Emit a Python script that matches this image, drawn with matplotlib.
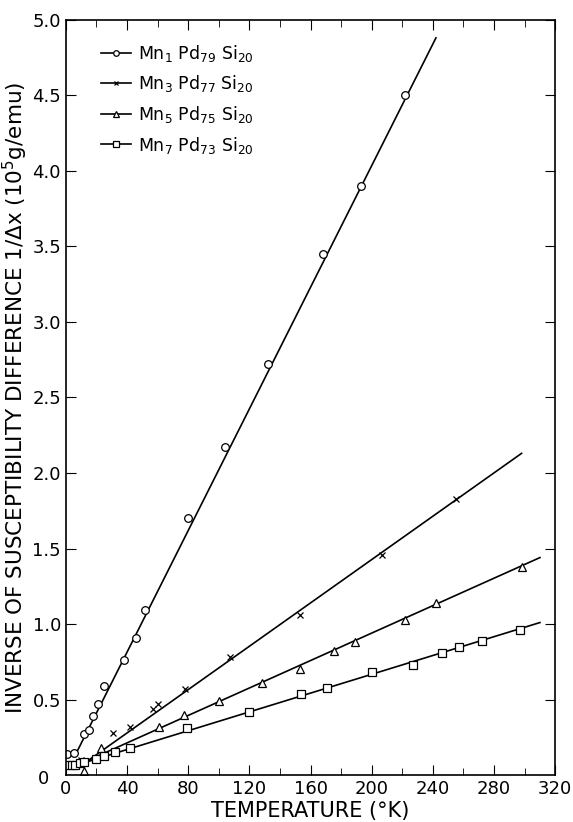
import numpy as np
import matplotlib.pyplot as plt

# measured points (T in K, 1/dchi in 1e5 g/emu)
t_mn1 = [1, 5, 12, 15, 18, 21, 25, 38, 46, 52, 80, 104, 132, 168, 193, 222]
y_mn1 = [0.14, 0.145, 0.27, 0.30, 0.39, 0.47, 0.59, 0.76, 0.91, 1.09, 1.70, 2.17, 2.72, 3.45, 3.90, 4.50]

t_mn3 = [10, 31, 42, 57, 60, 78, 107, 153, 207, 255]
y_mn3 = [0.10, 0.28, 0.32, 0.44, 0.47, 0.57, 0.78, 1.06, 1.46, 1.83]

t_mn5 = [12, 23, 61, 77, 100, 128, 153, 175, 189, 222, 242, 298]
y_mn5 = [0.03, 0.18, 0.32, 0.40, 0.49, 0.61, 0.70, 0.82, 0.88, 1.03, 1.14, 1.38]

t_mn7 = [0, 4, 6, 9, 12, 20, 25, 32, 42, 79, 120, 154, 171, 200, 227, 246, 257, 272, 297]
y_mn7 = [0.07, 0.066, 0.07, 0.08, 0.09, 0.11, 0.13, 0.15, 0.18, 0.31, 0.42, 0.54, 0.58, 0.68, 0.73, 0.81, 0.85, 0.89, 0.96]

# drawn straight lines
fit_t_mn1 = [6, 242]
fit_y_mn1 = [0.13, 4.88]
fit_t_mn3 = [15, 298]
fit_y_mn3 = [0.10, 2.13]
fit_t_mn5 = [15, 310]
fit_y_mn5 = [0.10, 1.44]
fit_t_mn7 = [0, 8, 310]
fit_y_mn7 = [0.07, 0.07, 1.01]

labels = ["Mn$_1$ Pd$_{79}$ Si$_{20}$", "Mn$_3$ Pd$_{77}$ Si$_{20}$",
          "Mn$_5$ Pd$_{75}$ Si$_{20}$", "Mn$_7$ Pd$_{73}$ Si$_{20}$"]

plt.rcParams['font.family'] = ['DejaVu Sans']
plt.rcParams['mathtext.default'] = 'regular'

fig = plt.figure(figsize=(5.73, 8.22), dpi=100)
ax = fig.add_axes([0.115, 0.057, 0.854, 0.919])

series = [(t_mn1, y_mn1, fit_t_mn1, fit_y_mn1, 'o'),
          (t_mn3, y_mn3, fit_t_mn3, fit_y_mn3, 'x'),
          (t_mn5, y_mn5, fit_t_mn5, fit_y_mn5, '^'),
          (t_mn7, y_mn7, fit_t_mn7, fit_y_mn7, 's')]

for (t, y, ft, fy, m), lab in zip(series, labels):
    ax.plot(ft, fy, color='black', lw=1.2)
    ax.plot(t, y, linestyle='none', marker=m, ms=5.5 if m != 'x' else 4.5,
            mfc='white', mec='black', mew=0.9)
    ax.plot([], [], color='black', lw=1.2, marker=m, ms=4 if m != 'x' else 3.5,
            mfc='white', mec='black', mew=0.9, label=lab)

ax.set_xlim(0, 320)
ax.set_ylim(0, 5.0)
ax.set_xticks(np.arange(0, 321, 40))
ax.set_xticks(np.arange(0, 321, 20), minor=True)
ax.set_xticklabels([str(v) for v in range(0, 321, 40)])
ax.set_yticks(np.arange(0.5, 5.01, 0.5))
ax.set_yticklabels(["%.1f" % v for v in np.arange(0.5, 5.01, 0.5)])
ax.tick_params(which='both', direction='in', top=True, right=True, labelsize=13)
ax.tick_params(which='major', length=7)
ax.tick_params(which='minor', length=5)
ax.text(-0.035, -0.005, "0", transform=ax.transAxes, ha='right', va='center', fontsize=13)

ax.set_xlabel("TEMPERATURE (°K)", fontsize=15, labelpad=2)
ax.set_ylabel("INVERSE OF SUSCEPTIBILITY DIFFERENCE 1/Δx (10$^5$g/emu)", fontsize=15.5, labelpad=2)

ax.legend(loc='upper left', bbox_to_anchor=(0.04, 0.99), frameon=False, fontsize=12.5,
          handlelength=1.7, handletextpad=0.4, numpoints=1, labelspacing=0.55)

for s in ax.spines.values():
    s.set_linewidth(1.2)

fig.savefig("out.png", dpi=100)
